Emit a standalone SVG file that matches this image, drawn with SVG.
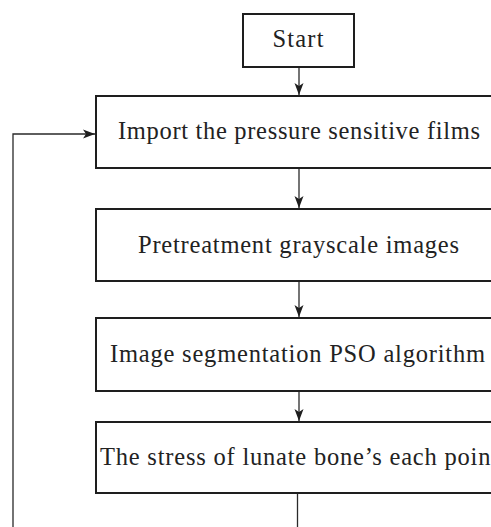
<svg xmlns="http://www.w3.org/2000/svg" width="491" height="527" viewBox="0 0 491 527">
<style>
.box{fill:#fff;stroke:#1e1e1e;stroke-width:2}
.lbl{font-family:"Liberation Serif",serif;font-size:24.5px;fill:#222;text-anchor:middle}
.con{fill:none;stroke:#2a2a2a;stroke-width:1.3}
</style>
<defs>
<marker id="ah" markerUnits="userSpaceOnUse" markerWidth="14" markerHeight="14" viewBox="0 0 14 14" refX="12" refY="7" orient="auto">
<path d="M0,2.5 L12,7 L0,11.5 L3,7 Z" fill="#1e1e1e"/>
</marker>
</defs>
<rect width="491" height="527" fill="#fff"/>
<g id="connectors">
<line class="con" x1="299" y1="68" x2="299" y2="95" marker-end="url(#ah)"/>
<line class="con" x1="299" y1="169" x2="299" y2="208" marker-end="url(#ah)"/>
<line class="con" x1="299" y1="282" x2="299" y2="317" marker-end="url(#ah)"/>
<line class="con" x1="299" y1="392" x2="299" y2="421" marker-end="url(#ah)"/>
<line class="con" x1="297.5" y1="494" x2="297.5" y2="527"/>
<polyline class="con" points="13,527 13,134 95,134" marker-end="url(#ah)"/>
</g>
<g id="start">
<rect class="box" x="243" y="14" width="111" height="53"/>
<text class="lbl" x="298" y="47" textLength="51">Start</text>
</g>
<g id="import">
<rect class="box" x="96" y="96" width="406" height="72"/>
<text class="lbl" x="299" y="138.5" textLength="362">Import the pressure sensitive films</text>
</g>
<g id="pretreatment">
<rect class="box" x="96" y="209" width="406" height="72"/>
<text class="lbl" x="298.5" y="252.5" textLength="321">Pretreatment grayscale images</text>
</g>
<g id="segmentation">
<rect class="box" x="96" y="318" width="406" height="73"/>
<text class="lbl" x="297.5" y="362" textLength="375">Image segmentation PSO algorithm</text>
</g>
<g id="stress">
<rect class="box" x="96" y="422" width="406" height="71"/>
<text class="lbl" x="299" y="465" textLength="398">The stress of lunate bone’s each point</text>
</g>
</svg>
